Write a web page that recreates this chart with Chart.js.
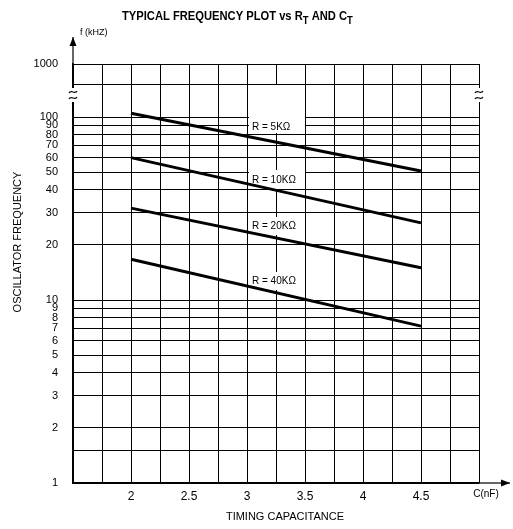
<!DOCTYPE html>
<html>
<head>
<meta charset="utf-8">
<script src="https://cdn.jsdelivr.net/npm/chart.js@4/dist/chart.umd.min.js"></script>
<style>
  html, body { margin: 0; padding: 0; background: #fff; }
  #wrap { width: 513px; height: 529px; }
</style>
</head>
<body>
<div id="wrap"><canvas id="freqChart" width="513" height="529"></canvas></div>
<script>
// values (C in nF, f in kHz)
const capacitance = [2, 4.5];
const r5k = [105, 50.7];
const r10k = [60, 26.4];
const r20k = [31.8, 15];
const r40k = [16.7, 7.2];
const seriesNames = ['R = 5KΩ', 'R = 10KΩ', 'R = 20KΩ', 'R = 40KΩ'];

const xTickLabels = [2, 2.5, 3, 3.5, 4, 4.5];
const yTickLabels = [1, 2, 3, 4, 5, 6, 7, 8, 9, 10, 20, 30, 40, 50, 60, 70, 80, 90, 100];
const yGridOnly = [1.5];
// axis is broken above 100: the top row stands for 1000
const yBreakLine = 151;
const yBreakTop = 195;
const yTopLabel = '1000';

const FONT = '"Liberation Sans", Arial, sans-serif';

// where the series names sit (scale values) and their white boxes
const labelSpots = [
    { x: 3, y: 88, box: [85, 133] },
    { x: 3, y: 45, box: [170, 189] },
    { x: 3, y: 25.4, box: [217, 235] },
    { x: 3, y: 12.7, box: [272, 290] }
];

const allYTicks = yTickLabels.concat(yGridOnly, [yBreakLine, yBreakTop]).sort((a, b) => a - b);

function arrow(ctx, x1, y1, x2, y2) {
    ctx.beginPath();
    ctx.moveTo(x1, y1);
    ctx.lineTo(x2, y2);
    ctx.stroke();
    const a = Math.atan2(y2 - y1, x2 - x1);
    ctx.beginPath();
    ctx.moveTo(x2, y2);
    ctx.lineTo(x2 - 9 * Math.cos(a) + 3.5 * Math.sin(a), y2 - 9 * Math.sin(a) - 3.5 * Math.cos(a));
    ctx.lineTo(x2 - 9 * Math.cos(a) - 3.5 * Math.sin(a), y2 - 9 * Math.sin(a) + 3.5 * Math.cos(a));
    ctx.closePath();
    ctx.fill();
}

function squiggle(ctx, x, y) {
    ctx.fillStyle = '#fff';
    ctx.fillRect(x - 3, y - 7, 6, 14);
    ctx.strokeStyle = '#000';
    ctx.lineWidth = 1.2;
    [-3, 3].forEach(dy => {
        ctx.beginPath();
        ctx.moveTo(x - 4, y + dy + 1);
        ctx.bezierCurveTo(x - 2, y + dy - 3, x + 2, y + dy + 3, x + 4, y + dy - 1);
        ctx.stroke();
    });
}

const decorations = {
    id: 'decorations',
    beforeDatasetsDraw(chart) {
        const ctx = chart.ctx;
        const xs = chart.scales.x;
        const ys = chart.scales.y;
        ctx.save();
        labelSpots.forEach((spot, i) => {
            const px = xs.getPixelForValue(spot.x);
            ctx.fillStyle = '#fff';
            ctx.fillRect(px + 2, spot.box[0], 56, spot.box[1] - spot.box[0]);
            ctx.fillStyle = '#000';
            ctx.font = '10px ' + FONT;
            ctx.textBaseline = 'middle';
            ctx.textAlign = 'left';
            ctx.fillText(seriesNames[i], px + 5, ys.getPixelForValue(spot.y));
        });
        ctx.restore();
    },
    afterDraw(chart) {
        const ctx = chart.ctx;
        const area = chart.chartArea;
        ctx.save();
        ctx.fillStyle = '#000';
        ctx.strokeStyle = '#000';
        ctx.lineWidth = 1.2;

        // title with subscripts, squeezed a bit like the printed one
        const parts = [
            ['TYPICAL FREQUENCY PLOT vs R', 0],
            ['T', 1],
            [' AND C', 0],
            ['T', 1]
        ];
        ctx.save();
        ctx.translate(122, 0);
        ctx.scale(0.86, 1);
        let tx = 0;
        parts.forEach(p => {
            ctx.font = p[1] ? 'bold 11px ' + FONT : 'bold 13px ' + FONT;
            ctx.textAlign = 'left';
            ctx.textBaseline = 'alphabetic';
            ctx.fillText(p[0], tx, p[1] ? 24 : 20);
            tx += ctx.measureText(p[0]).width;
        });
        ctx.restore();

        // axis arrows
        arrow(ctx, area.left, area.top, area.left, 37);
        arrow(ctx, area.right, area.bottom, 510, area.bottom);

        ctx.font = '9px ' + FONT;
        ctx.textAlign = 'left';
        ctx.textBaseline = 'middle';
        ctx.fillText('f (kHZ)', 80, 33);

        ctx.font = '10px ' + FONT;
        ctx.textAlign = 'center';
        ctx.fillText('C(nF)', 486, 494);

        // axis titles
        ctx.font = '11px ' + FONT;
        ctx.fillText('TIMING CAPACITANCE', 285, 517);
        ctx.save();
        ctx.translate(18, 242);
        ctx.rotate(-Math.PI / 2);
        ctx.fillText('OSCILLATOR FREQUENCY', 0, 0);
        ctx.restore();

        // break marks on both side borders
        squiggle(ctx, area.left, 95);
        squiggle(ctx, area.right, 95);
        ctx.restore();
    }
};

const lineStyle = {
    borderColor: '#000',
    borderWidth: 3,
    pointRadius: 0,
    fill: false,
    tension: 0
};

const series = [r5k, r10k, r20k, r40k];

new Chart(document.getElementById('freqChart'), {
    type: 'line',
    data: {
        datasets: series.map((vals, i) => Object.assign({
            label: seriesNames[i],
            data: capacitance.map((c, j) => ({ x: c, y: vals[j] }))
        }, lineStyle))
    },
    options: {
        responsive: false,
        animation: false,
        events: [],
        layout: { padding: { left: 0, top: 64, right: 34, bottom: 0 } },
        plugins: {
            legend: { display: false },
            tooltip: { enabled: false },
            title: { display: false }
        },
        scales: {
            x: {
                type: 'linear',
                min: 1.5,
                max: 5,
                afterFit: s => { s.height = 46; },
                ticks: {
                    stepSize: 0.25,
                    autoSkip: false,
                    maxRotation: 0,
                    padding: 6,
                    color: '#000',
                    font: { family: FONT, size: 12 },
                    callback: v => xTickLabels.includes(v) ? String(v) : ''
                },
                grid: { color: '#000', lineWidth: 1, drawTicks: false },
                border: { color: '#000', width: 1.5 }
            },
            y: {
                type: 'logarithmic',
                min: 1,
                max: yBreakTop,
                afterFit: s => { s.width = 73; },
                afterBuildTicks: s => { s.ticks = allYTicks.map(v => ({ value: v })); },
                ticks: {
                    autoSkip: false,
                    padding: 15,
                    color: '#000',
                    font: { family: FONT, size: 11 },
                    callback: v => {
                        if (v === yBreakTop) return yTopLabel;
                        return yTickLabels.includes(v) ? String(v) : '';
                    }
                },
                grid: { color: '#000', lineWidth: 1, drawTicks: false },
                border: { color: '#000', width: 1.5 }
            }
        }
    },
    plugins: [decorations]
});
</script>
</body>
</html>
